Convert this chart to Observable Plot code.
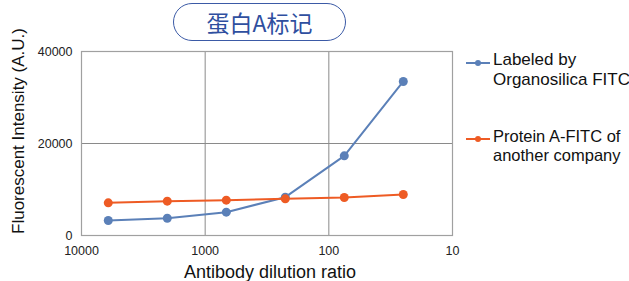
<!DOCTYPE html>
<html><head><meta charset="utf-8">
<script src="https://cdn.jsdelivr.net/npm/d3@7"></script>
<script src="https://cdn.jsdelivr.net/npm/@observablehq/plot@0.6"></script>
<style>
body{margin:0;background:#fff;font-family:"Liberation Sans",Arial,sans-serif;}
#wrap{position:relative;width:629px;height:281px;overflow:hidden;}
.abs{position:absolute;white-space:nowrap;}
</style></head><body>
<div id="wrap"></div>
<script>
const dilution = [6075, 2025, 675, 225, 75, 25];
const organosilica = [3260, 3760, 5070, 8330, 17320, 33480];
const competitor = [7100, 7460, 7680, 7970, 8260, 8910];
const seriesNames = ["Labeled by Organosilica FITC", "Protein A-FITC of another company"];
const seriesColors = ["#5b80b8", "#ee5b24"];
const xTicks = [10000, 1000, 100, 10];
const yTicks = [0, 20000, 40000];

const data = [
  ...dilution.map((d, i) => ({x: d, y: organosilica[i], s: seriesNames[0]})),
  ...dilution.map((d, i) => ({x: d, y: competitor[i], s: seriesNames[1]}))
];

const plot = Plot.plot({
  width: 629, height: 281,
  marginLeft: 81, marginRight: 177, marginTop: 51, marginBottom: 46,
  style: {fontFamily: "Liberation Sans, Arial, sans-serif", fontSize: "12.5px", color: "#222"},
  x: {type: "log", domain: [10000, 10], ticks: xTicks, tickFormat: d => String(d), label: null, tickSize: 0, tickPadding: 11},
  y: {domain: [0, 40000], ticks: yTicks, tickFormat: d => String(d), label: null, tickSize: 0, tickPadding: 9},
  color: {domain: seriesNames, range: seriesColors},
  marks: [
    Plot.gridX(xTicks, {stroke: "#8a8a8a", strokeOpacity: 1, strokeWidth: 1}),
    Plot.gridY(yTicks, {stroke: "#8a8a8a", strokeOpacity: 1, strokeWidth: 1}),
    Plot.frame({stroke: "#a0a0a0", strokeWidth: 1.2}),
    Plot.line(data, {x: "x", y: "y", stroke: "s", z: "s", strokeWidth: 2}),
    Plot.dot(data, {x: "x", y: "y", fill: "s", r: 4.5})
  ]
});
const wrap = document.getElementById("wrap");
plot.style.position = "absolute"; plot.style.left = "0"; plot.style.top = "0";
wrap.appendChild(plot);

function add(html, css) {
  const d = document.createElement("div");
  d.className = "abs"; d.innerHTML = html; Object.assign(d.style, css); wrap.appendChild(d);
  return d;
}
// title pill
add("蛋白A标记", {left: "173px", top: "3px", width: "171px", height: "36px", border: "1.5px solid #3b5aa6",
  borderRadius: "19px", textAlign: "center", lineHeight: "36px", fontSize: "23px", color: "#2f4f9f",
  fontFamily: "'Noto Sans CJK SC', sans-serif", background: "#fff"});
// axis labels
add("Antibody dilution ratio", {left: "270px", top: "262px", transform: "translateX(-50%)", fontSize: "18px", lineHeight: "20px", color: "#111"});
add("Fluorescent Intensity (A.U.)", {left: "19px", top: "131px", transform: "translate(-50%,-50%) rotate(-90deg)", fontSize: "17px", color: "#111"});
// legend
const legendY = [63, 139];
const legendTop = [50, 127];
const legendSize = [17, 16.5];
const legendLines = [["Labeled by", "Organosilica FITC"], ["Protein A-FITC of", "another company"]];
const lineHeights = [20, 18.5];
seriesNames.forEach((n, i) => {
  const c = seriesColors[i];
  add(`<svg width="26" height="10"><line x1="0" y1="5" x2="24" y2="5" stroke="${c}" stroke-width="2"/><circle cx="12" cy="5" r="3" fill="${c}"/></svg>`,
    {left: "466px", top: (legendY[i] - 5) + "px", lineHeight: "0"});
  add(legendLines[i].join("<br>"), {left: "493px", top: legendTop[i] + "px", fontSize: legendSize[i] + "px",
    lineHeight: lineHeights[i] + "px", color: "#111"});
});
</script>
</body></html>
